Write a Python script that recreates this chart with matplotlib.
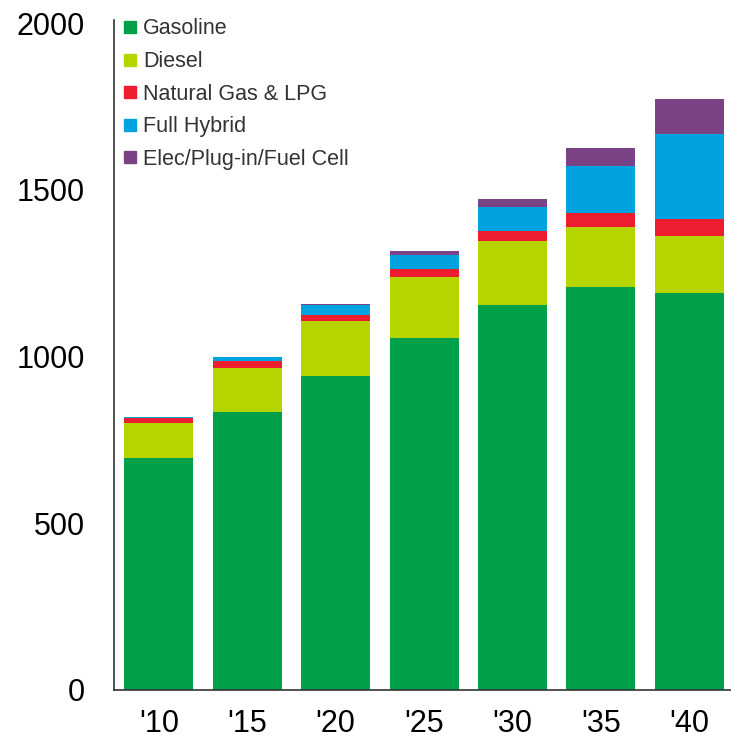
import matplotlib
matplotlib.use("Agg")
import matplotlib.pyplot as plt
import numpy as np
from matplotlib.lines import Line2D

plt.rcParams["font.family"] = ["Liberation Sans", "DejaVu Sans"]

# Datos
years = ["'10", "'15", "'20", "'25", "'30", "'35", "'40"]
gasoline = [695, 835, 943, 1056, 1155, 1210, 1192]
diesel = [105, 131, 163, 183, 191, 178, 169]
natural_gas = [17, 20, 20, 23, 30, 43, 52]
full_hybrid = [3, 12, 28, 43, 74, 142, 254]
electric = [0, 0, 3, 12, 23, 53, 107]

series = [
    ("Gasoline", gasoline, "#00A04B"),
    ("Diesel", diesel, "#B6D500"),
    ("Natural Gas & LPG", natural_gas, "#EE1D2F"),
    ("Full Hybrid", full_hybrid, "#00A3E0"),
    ("Elec/Plug-in/Fuel Cell", electric, "#7B4385"),
]

fig = plt.figure(figsize=(7.31, 7.41), dpi=100)
ax = fig.add_axes([0.156, 0.069, 0.844, 0.904])

x = np.arange(len(years))
bottom = np.zeros(len(years))
handles = []
for label, values, color in series:
    ax.bar(x, values, width=0.78, bottom=bottom, color=color, linewidth=0)
    bottom += np.array(values)
    handles.append(Line2D([], [], marker="s", linestyle="none", color=color,
                          markersize=8, label=label))

ax.set_xlim(-0.506, 6.47)
ax.set_ylim(0, 2010)
ax.set_yticks([0, 500, 1000, 1500, 2000])
ax.set_xticks(x)
ax.set_xticklabels(years)

ax.spines["top"].set_visible(False)
ax.spines["right"].set_visible(False)
for side in ["left", "bottom"]:
    ax.spines[side].set_color("#333333")
    ax.spines[side].set_linewidth(1.2)

ax.tick_params(axis="y", length=0, pad=21, labelsize=22)
ax.tick_params(axis="x", length=0, pad=14, labelsize=22)

leg = ax.legend(handles=handles, loc="upper left", bbox_to_anchor=(0.005, 1.012),
                frameon=False, fontsize=15.5, handlelength=0.6,
                handletextpad=0.3, labelspacing=0.54, borderaxespad=0.2,
                borderpad=0.1)
for t in leg.get_texts():
    t.set_color("#333333")

plt.savefig("out.png", dpi=100)
plt.close()
